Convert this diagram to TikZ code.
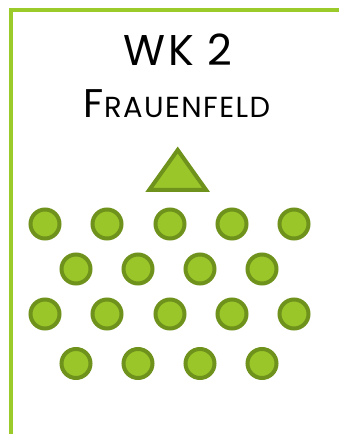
\documentclass[tikz,border=0pt]{standalone}
\usepackage{fontspec}
\setmainfont{Poppins}
\definecolor{lime}{HTML}{9AC62A}
\definecolor{limedark}{HTML}{6E921B}
\definecolor{frame}{HTML}{9BCB2B}
\begin{document}
\begin{tikzpicture}[x=1pt,y=-1pt,
  dot/.style={circle,draw=limedark,fill=lime,line width=4pt,minimum size=29pt,inner sep=0pt},
  tri/.style={draw=limedark,fill=lime,line width=4pt,line join=miter},
  framestyle/.style={draw=frame,line width=4pt,line join=miter}]
\useasboundingbox (0,0) rectangle (339,434);
\draw[framestyle] (11,436) -- (11,10) -- (341,10);
\node[anchor=base,inner sep=0pt] (title) at (178,65) {\fontsize{43}{43}\selectfont\addfontfeature{LetterSpace=6}WK 2};
\node[anchor=base,inner sep=0pt] (place) at (177,117) {\fontsize{40}{40}\selectfont\addfontfeature{LetterSpace=5}F\fontsize{29}{29}\selectfont RAUENFELD};
\path[tri] (177.7,150) -- (206,189.8) -- (149.3,189.8) -- cycle;
\foreach \i/\x/\y in {1/45/224,2/107/224,3/170/224,4/232/224,5/294/224,
  6/76/269,7/138/269,8/200/269,9/262/269,
  10/45/314,11/107/314,12/170/314,13/232/314,14/294/314,
  15/76/363.5,16/138/363.5,17/200/363.5,18/262/363.5}
  \node[dot] (c\i) at (\x,\y) {};
\end{tikzpicture}
\end{document}
